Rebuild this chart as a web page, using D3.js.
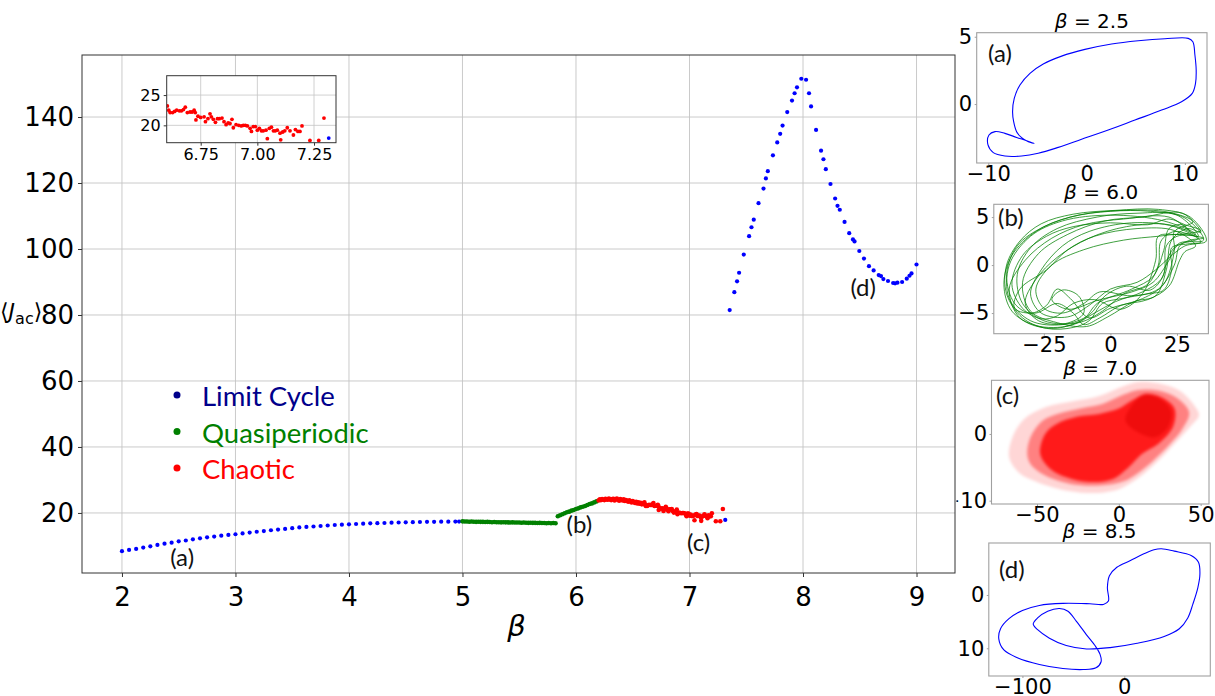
<!DOCTYPE html>
<html><head><meta charset="utf-8">
<script src="https://cdn.jsdelivr.net/npm/d3@7"></script>
<style>body{margin:0;background:#fff}svg{display:block}</style>
</head><body>
<svg id="c" width="1215" height="696"></svg>
<script>
// ---------------- DATA ----------------
const betaTicks = [2,3,4,5,6,7,8,9];
const jTicks = [20,40,60,80,100,120,140];
const insetBetaTicks = [6.75,7.00,7.25];
const insetJTicks = [20,25];

const limitBeta = [2.0,2.0625,2.125,2.1875,2.25,2.3125,2.375,2.4375,2.5,2.5625,2.625,2.6875,2.75,2.8125,2.875,2.9375,3.0,3.0625,3.125,3.1875,3.25,3.3125,3.375,3.4375,3.5,3.5625,3.625,3.6875,3.75,3.8125,3.875,3.9375,4.0,4.0625,4.125,4.1875,4.25,4.3125,4.375,4.4375,4.5,4.5625,4.625,4.6875,4.75,4.8125,4.875,4.9375,4.97,
  7.315,
  7.354,7.395,7.419,7.437,7.478,7.525,7.546,7.566,7.608,7.652,7.673,7.690,7.735,7.773,7.799,7.820,7.861,7.903,7.926,7.947,7.985,8.027,8.053,8.071,8.115,8.159,8.180,8.201,8.242,8.283,8.304,8.324,8.366,8.407,8.440,8.454,8.496,8.537,8.581,8.622,8.667,8.687,8.708,8.749,8.794,8.811,8.832,8.873,8.914,8.938,8.956,9.000];
const limitJ = [8.4,8.8,9.1,9.5,9.9,10.3,10.7,11.0,11.4,11.65,12.0,12.3,12.6,12.85,13.1,13.35,13.55,13.8,14.05,14.3,14.5,14.75,14.95,15.15,15.4,15.6,15.75,15.9,16.05,16.2,16.35,16.45,16.55,16.65,16.75,16.85,16.9,16.95,17.05,17.1,17.15,17.2,17.25,17.3,17.3,17.35,17.35,17.4,17.4,
  17.9,
  81.5,86.9,90.2,92.8,98.3,103.9,106.6,108.9,113.9,118.3,121.4,123.6,128.4,132.3,134.9,137.4,141.5,145.0,147.2,149.0,151.6,151.3,147.2,143.2,136.1,129.8,127.2,124.2,119.7,115.3,113.1,111.9,108.2,104.8,102.9,102.3,99.4,97.1,94.8,93.5,92.1,91.8,90.9,90.3,89.7,89.6,89.8,90.0,91.0,91.9,92.6,95.3];

const quasiBeta = [5.00,5.02,5.04,5.06,5.08,5.10,5.12,5.14,5.16,5.18,5.20,5.22,5.24,5.26,5.28,5.30,5.32,5.34,5.36,5.38,5.40,5.42,5.44,5.46,5.48,5.50,5.52,5.54,5.56,5.58,5.60,5.62,5.64,5.66,5.68,5.70,5.72,5.74,5.76,5.78,5.80,5.82,
  5.84,5.86,5.88,5.90,5.92,5.94,5.96,5.98,6.00,6.02,6.04,6.06,6.08,6.10,6.12,6.14,6.16,6.18];
const quasiJ = [17.45,17.4,17.4,17.35,17.4,17.35,17.3,17.35,17.3,17.3,17.25,17.3,17.25,17.2,17.25,17.2,17.2,17.15,17.2,17.15,17.15,17.1,17.15,17.1,17.1,17.1,17.05,17.1,17.05,17.0,17.05,17.0,17.0,16.95,17.0,16.95,16.95,16.9,16.95,16.9,16.95,16.9,
  19.0,19.3,19.6,19.9,20.2,20.4,20.7,20.9,21.2,21.4,21.7,21.9,22.1,22.4,22.7,22.9,23.2,23.5];

const chaosBeta = [6.20,6.21,6.22,6.23,6.24,6.25,6.26,6.27,6.28,6.29,6.30,6.31,6.32,6.33,6.34,6.35,6.36,6.37,6.38,6.39,6.40,6.41,6.42,6.43,6.44,6.45,6.46,6.47,6.48,6.49,6.50,6.51,6.52,6.53,6.54,6.55,6.56,6.57,6.58,6.59,
  6.603,6.609,6.615,6.626,6.635,6.644,6.656,6.665,6.674,6.682,6.691,6.703,6.712,6.721,6.726,6.729,6.738,6.750,6.765,6.771,6.782,6.791,6.797,6.806,6.815,6.824,6.832,6.844,6.853,6.862,6.871,6.879,6.888,6.894,6.906,6.918,6.929,6.938,6.947,6.956,6.968,6.974,6.982,6.991,7.000,7.009,7.018,7.026,7.038,7.044,7.053,7.062,7.071,7.079,7.088,7.100,7.103,7.112,7.121,7.132,7.144,7.159,7.168,7.179,7.188,7.197,7.232,7.271,7.294];
const chaosJ = [23.8,24.1,23.9,24.2,24.0,23.9,24.3,24.1,24.0,24.4,24.1,23.9,24.2,24.3,23.8,24.1,24.4,24.0,23.7,24.2,24.0,23.8,24.1,23.6,23.9,23.7,23.4,23.8,23.5,23.2,23.6,23.3,23.0,23.4,22.9,23.2,22.8,23.1,22.6,22.9,
  23.2,22.5,22.1,22.1,22.3,22.5,22.4,22.4,22.6,23.0,22.1,22.2,22.2,22.5,22.1,20.9,21.5,21.3,21.4,20.6,21.1,21.9,21.4,21.0,20.5,21.1,21.1,21.2,20.6,20.1,20.4,20.3,21.0,19.6,20.1,20.0,19.9,20.0,20.0,19.9,19.5,19.0,19.8,19.8,19.2,19.5,19.1,19.1,19.2,17.8,19.5,19.7,19.1,19.1,19.2,18.7,17.6,18.9,19.1,19.6,19.1,18.4,19.3,19.0,19.0,19.9,17.5,17.5,21.2];

const legendLabels = ['Limit Cycle','Quasiperiodic','Chaotic'];
const annotLabels = ['(a)','(b)','(c)','(d)'];
const annotBeta = [2.53,6.03,7.08,8.53];
const annotJ = [3.9,13.9,8.5,85.8];

// phase portraits
const cycleA = [[-5.32,-2.92],[-5.93,-2.80],[-6.61,-2.50],[-7.12,-2.05],[-7.42,-1.31],[-7.53,-0.57],[-7.36,0.42],[-6.78,1.41],[-5.76,2.28],[-4.41,2.97],[-2.54,3.56],[-0.17,4.06],[2.54,4.46],[5.25,4.70],[7.97,4.85],[10.34,4.88],[10.81,4.63],[11.02,3.64],[11.15,2.52],[11.08,1.53],[10.75,0.79],[9.66,0.17],[7.63,-0.45],[4.92,-1.19],[2.20,-1.93],[-0.51,-2.62],[-2.88,-3.22],[-4.92,-3.66],[-6.61,-3.86],[-8.31,-3.86],[-9.49,-3.61],[-10.03,-3.04],[-9.93,-2.30],[-9.32,-2.05],[-8.31,-2.18],[-7.12,-2.48],[-6.10,-2.72]];

const quasiLoops = [
 [[35,2.6],[28,4.9],[15,5.6],[0,5.6],[-15,5.0],[-28,3.5],[-37,1.0],[-40,-2.0],[-37,-4.8],[-28,-6.3],[-15,-6.3],[-6,-5.0],[2,-3.8],[12,-2.8],[19,-1.5],[22,1.0],[26,2.3]],
 [[33,3.0],[25,5.2],[10,5.4],[-5,5.0],[-20,3.8],[-30,1.8],[-35,-1.0],[-33,-4.0],[-25,-5.8],[-12,-6.0],[-3,-4.8],[5,-3.0],[14,-2.0],[18,0.0],[19,2.5],[24,3.5]],
 [[30,3.5],[22,5.0],[5,4.8],[-10,4.2],[-22,2.8],[-32,0.5],[-38,-2.5],[-34,-5.5],[-22,-6.6],[-10,-5.6],[-5,-4.0],[8,-2.5],[16,-1.2],[20,1.5],[22,3.8],[27,4.2]],
 [[34,2.4],[24,4.0],[8,4.4],[-8,3.5],[-18,2.0],[-26,-0.5],[-30,-3.0],[-26,-5.0],[-16,-5.4],[-8,-4.2],[0,-2.5],[10,-1.8],[17,-0.5],[23,1.0],[28,2.0]],
 [[32,3.2],[20,4.6],[0,5.2],[-18,4.6],[-30,3.0],[-38,0.0],[-38,-3.5],[-30,-5.8],[-18,-6.2],[-8,-5.2],[-2,-3.2],[6,-2.2],[15,-2.6],[20,-1.0],[21,2.0],[25,3.0]],
 [[35,2.8],[26,3.2],[18,3.0],[5,2.6],[-10,1.6],[-22,0.0],[-28,-2.5],[-25,-4.5],[-18,-5.0],[-10,-4.0],[-4,-2.8],[8,-3.2],[18,-2.5],[24,0.0],[26,2.0],[30,2.6]],
 [[31,4.5],[22,5.5],[5,5.7],[-12,5.2],[-25,4.0],[-35,2.0],[-39,-1.0],[-36,-4.0],[-30,-5.0],[-24,-4.2],[-20,-2.5],[-15,-3.5],[-8,-5.5],[0,-4.5],[12,-3.5],[20,-2.0],[24,1.5],[24,3.5]],
 [[34,3.4],[27,5.4],[12,5.0],[-2,4.6],[-16,3.2],[-27,1.2],[-33,-1.8],[-30,-4.8],[-20,-6.0],[-9,-6.4],[-1,-5.4],[9,-3.8],[17,-3.2],[21,-0.5],[23,2.6],[29,3.8]],
 [[33,2.8],[22,4.2],[6,4.0],[-8,2.8],[-20,0.8],[-28,-1.5],[-32,-4.0],[-27,-5.8],[-17,-6.1],[-10,-5.0],[-12,-3.2],[-18,-2.6],[-22,-3.6],[-16,-4.6],[-4,-3.6],[8,-2.8],[16,-1.8],[22,0.5],[25,2.0]],
 [[36,2.5],[30,5.0],[18,5.8],[2,5.7],[-14,5.3],[-26,4.3],[-34,2.5],[-39,0.0],[-39,-3.0],[-33,-5.5],[-24,-6.6],[-14,-6.5],[-8,-5.8],[-3,-4.0],[4,-3.5],[14,-3.0],[20,-2.6],[23,-0.5],[23,1.8],[29,2.2]],
 [[32,2.0],[24,3.6],[10,3.8],[-6,3.0],[-16,1.6],[-24,-0.5],[-34,-2.5],[-36,-4.5],[-28,-5.0],[-20,-4.0],[-14,-5.0],[-10,-6.2],[-4,-5.5],[4,-4.2],[14,-3.6],[22,-2.2],[26,0.5],[28,1.4]],
 [[34,3.6],[28,4.2],[22,4.8],[14,4.2],[0,4.4],[-14,4.0],[-24,3.0],[-33,1.0],[-37,-2.0],[-33,-4.5],[-26,-5.6],[-20,-5.3],[-14,-4.0],[-6,-3.6],[4,-4.6],[12,-3.0],[17,0.5],[18,3.0],[26,3.2]]
];

const chaosOuter = [[-67,-3.5],[-65,-0.5],[-58,2.2],[-45,4.0],[-28,4.9],[-12,5.7],[3,7.2],[12,7.8],[24,7.6],[37,6.5],[46,4.3],[49,2.8],[44,1.2],[35,-1.2],[25,-3.8],[16,-5.8],[7,-7.4],[0,-8.3],[-10,-8.8],[-23,-8.8],[-36,-8.3],[-50,-7.2],[-61,-5.8]];
const chaosMid = [[-56,-3.0],[-54,-0.5],[-47,1.9],[-36,3.1],[-22,3.9],[-10,4.5],[3,5.9],[12,6.6],[24,6.5],[36,5.3],[43,3.2],[39,0.8],[31,-1.6],[21,-4.0],[12,-5.8],[3,-7.1],[-10,-7.7],[-23,-7.7],[-37,-7.0],[-48,-5.8],[-54,-4.5]];
const chaosCore = [[-48,-3.0],[-45,0.0],[-38,1.5],[-25,2.6],[-12,3.0],[0,3.8],[8,5.0],[16,6.0],[26,5.5],[34,3.8],[33,1.0],[24,-1.5],[14,-3.0],[6,-5.0],[-4,-6.8],[-18,-7.2],[-32,-6.5],[-42,-5.2]];
const chaosDark = [[4,2.0],[9,4.6],[16,5.9],[25,5.3],[32,3.4],[30,1.0],[22,-0.5],[12,0.2]];

const cycleD = [[-15.6,-1.14],[-16.6,1.39],[-14.6,3.61],[-7.3,5.19],[6.0,6.46],[19.2,7.72],[29.1,8.48],[36.4,8.67],[49.0,8.23],[65.6,7.41],[72.8,6.14],[74.2,3.92],[72.2,1.39],[67.2,-1.77],[62.3,-4.30],[54.0,-6.33],[39.1,-7.78],[12.6,-9.05],[-13.9,-9.87],[-37.1,-10.13],[-57.0,-9.49],[-73.5,-8.10],[-85.1,-6.52],[-89.4,-5.44],[-85.1,-4.30],[-75.2,-3.04],[-63.6,-2.53],[-55.3,-3.04],[-47.0,-4.94],[-37.1,-7.47],[-28.8,-9.49],[-23.8,-11.14],[-22.8,-12.53],[-27.8,-13.67],[-40.4,-13.99],[-60.3,-13.80],[-83.4,-13.04],[-105.0,-11.77],[-118.2,-10.32],[-123.2,-8.23],[-121.5,-6.33],[-113.2,-4.43],[-100.0,-2.91],[-83.4,-1.96],[-60.3,-1.58],[-33.8,-1.65],[-20.5,-1.77]];

// ---------------- DRAW ----------------
const svg = d3.select('#c');
const defs = svg.append('defs');
const TICKFONT = "'DejaVu Sans'";
const TXTFONT = "Lato";

const M = {l:82, r:955, t:55, b:573};
const x = d3.scaleLinear().domain([1.648, 9.339]).range([M.l, M.r]);
const y = d3.scaleLinear().domain([1.8, 158.8]).range([M.b, M.t]);

defs.append('clipPath').attr('id','mainclip').append('rect')
  .attr('x',M.l).attr('y',M.t).attr('width',M.r-M.l).attr('height',M.b-M.t);

const gm = svg.append('g');
gm.selectAll('.gx').data(betaTicks).join('line')
  .attr('x1',d=>x(d)).attr('x2',d=>x(d)).attr('y1',M.t).attr('y2',M.b)
  .attr('stroke','#c4c4c4').attr('stroke-width',0.9);
gm.selectAll('.gy').data(jTicks).join('line')
  .attr('x1',M.l).attr('x2',M.r).attr('y1',d=>y(d)).attr('y2',d=>y(d))
  .attr('stroke','#c4c4c4').attr('stroke-width',0.9);

function series(bs, js, color, r, xs, ys, parent){
  parent.append('g').selectAll('circle').data(bs.map((b,i)=>[b,js[i]])).join('circle')
    .attr('cx',d=>xs(d[0])).attr('cy',d=>ys(d[1])).attr('r',r).attr('fill',color);
}
const dots = gm.append('g').attr('clip-path','url(#mainclip)');
series(limitBeta, limitJ, '#0000ff', 2.1, x, y, dots);
series(quasiBeta, quasiJ, '#008000', 2.3, x, y, dots);
series(chaosBeta, chaosJ, '#ff0000', 2.3, x, y, dots);

gm.append('rect').attr('x',M.l).attr('y',M.t).attr('width',M.r-M.l).attr('height',M.b-M.t)
  .attr('fill','none').attr('stroke','#333').attr('stroke-width',1);

function styleAxis(s, fs, col){
  s.attr('font-size',null).attr('font-family',null);
  s.select('.domain').remove();
  s.selectAll('line').attr('stroke',col);
  s.selectAll('text').attr('fill','#000').style('font-family',TICKFONT).style('font-size',fs+'px');
}
gm.append('g').attr('transform',`translate(0,${M.b})`)
  .call(d3.axisBottom(x).tickValues(betaTicks).tickFormat(d3.format('d')).tickSize(4).tickPadding(11).tickSizeOuter(0))
  .call(s=>styleAxis(s,26,'#333'));
gm.append('g').attr('transform',`translate(${M.l},0)`)
  .call(d3.axisLeft(y).tickValues(jTicks).tickFormat(d3.format('d')).tickSize(4).tickPadding(4).tickSizeOuter(0))
  .call(s=>styleAxis(s,26,'#333'));

// axis labels
gm.append('text').attr('x',(M.l+M.r)/2 - 2).attr('y',636).attr('text-anchor','middle')
  .style('font-family',TICKFONT).attr('font-style','italic').style('font-size','29px').text('β');
const yl = gm.append('text').attr('x',0).attr('y',319).style('font-family',TICKFONT).style('font-size','22px');
yl.append('tspan').text('⟨');
yl.append('tspan').attr('font-style','italic').text('J');
yl.append('tspan').style('font-size','16px').attr('dy',5).text('ac');
yl.append('tspan').attr('dy',-5).text('⟩');

// legend
const legendColors = ['#00008b','#008000','#ff0000'];
const lg = gm.append('g');
legendLabels.forEach((t,i)=>{
  lg.append('circle').attr('cx',177).attr('cy',395+i*36.5).attr('r',3.5).attr('fill',legendColors[i]);
  lg.append('text').attr('x',202).attr('y',406+i*36.5).style('font-family',TXTFONT).style('font-size','27.5px')
    .attr('fill',legendColors[i]).text(t);
});

// annotations
gm.selectAll('.ann').data(annotLabels).join('text')
  .attr('x',(d,i)=>x(annotBeta[i])).attr('y',(d,i)=>y(annotJ[i]))
  .attr('text-anchor','middle').style('font-family',TXTFONT).style('font-size','24px').attr('fill','#111')
  .text(d=>d);

// inset
const I = {l:166.7, r:336, t:75.7, b:142.7};
const xi = d3.scaleLinear().domain([6.6,7.347]).range([I.l,I.r]);
const yi = d3.scaleLinear().domain([17.13,28.2]).range([I.b,I.t]);
defs.append('clipPath').attr('id','insclip').append('rect')
  .attr('x',I.l).attr('y',I.t).attr('width',I.r-I.l).attr('height',I.b-I.t);
const gi = svg.append('g');
gi.append('rect').attr('x',I.l).attr('y',I.t).attr('width',I.r-I.l).attr('height',I.b-I.t).attr('fill','#fff');
gi.selectAll('.ix').data(insetBetaTicks).join('line')
  .attr('x1',d=>xi(d)).attr('x2',d=>xi(d)).attr('y1',I.t).attr('y2',I.b).attr('stroke','#c4c4c4').attr('stroke-width',0.8);
gi.selectAll('.iy').data(insetJTicks).join('line')
  .attr('x1',I.l).attr('x2',I.r).attr('y1',d=>yi(d)).attr('y2',d=>yi(d)).attr('stroke','#c4c4c4').attr('stroke-width',0.8);
const idots = gi.append('g').attr('clip-path','url(#insclip)');
series(chaosBeta, chaosJ, '#ff0000', 1.9, xi, yi, idots);
series(limitBeta, limitJ, '#0000ff', 1.9, xi, yi, idots);
gi.append('rect').attr('x',I.l).attr('y',I.t).attr('width',I.r-I.l).attr('height',I.b-I.t)
  .attr('fill','none').attr('stroke','#333').attr('stroke-width',1);
gi.append('g').attr('transform',`translate(0,${I.b})`)
  .call(d3.axisBottom(xi).tickValues(insetBetaTicks).tickFormat(d3.format('.2f')).tickSize(3).tickPadding(3).tickSizeOuter(0))
  .call(s=>styleAxis(s,16,'#333'));
gi.append('g').attr('transform',`translate(${I.l},0)`)
  .call(d3.axisLeft(yi).tickValues(insetJTicks).tickFormat(d3.format('d')).tickSize(3).tickPadding(3).tickSizeOuter(0))
  .call(s=>styleAxis(s,16,'#333'));

// ---------------- side panels ----------------
defs.append('clipPath').attr('id','sideclip').append('rect').attr('x',956.5).attr('y',0).attr('width',260).attr('height',696);
const side = svg.append('g').attr('clip-path','url(#sideclip)');
const blur = defs.append('filter').attr('id','soft').attr('x','-10%').attr('y','-10%').attr('width','120%').attr('height','120%');
blur.append('feGaussianBlur').attr('stdDeviation',1.5);

const panels = [
 {key:'a', box:[976.7,32.7,1207,163], xd:[-11.18,12.25], yd:[-4.38,5.3], xt:[-10,0,10], yt:[0,5], title:'2.5', lab:[988,62]},
 {key:'b', box:[993.8,204.3,1208.4,333.7], xd:[-43.8,36.8], yd:[-7.15,6.33], xt:[-25,0,25], yt:[-5,0,5], title:'6.0', lab:[998,226]},
 {key:'c', box:[991.5,380.3,1209,504], xd:[-77.8,55.1], yd:[-10.5,8.04], xt:[-50,0,50], yt:[-10,0], title:'7.0', lab:[996,404]},
 {key:'d', box:[988.8,543,1210.3,676], xd:[-133,84.4], yd:[-15.2,9.75], xt:[-100,0], yt:[-10,0], title:'8.5', lab:[999,578]}
];
const fmt = d3.format('d');
panels.forEach(p=>{
  const [l,t,r,b] = p.box;
  const px = d3.scaleLinear().domain(p.xd).range([l,r]);
  const py = d3.scaleLinear().domain(p.yd).range([b,t]);
  const g = side.append('g');
  defs.append('clipPath').attr('id','pc'+p.key).append('rect').attr('x',l).attr('y',t).attr('width',r-l).attr('height',b-t);
  const inner = g.append('g').attr('clip-path',`url(#pc${p.key})`);
  const line = d3.line().x(d=>px(d[0])).y(d=>py(d[1])).curve(d3.curveCatmullRomClosed.alpha(0.5));
  if(p.key==='a'){
    inner.append('path').attr('d',line(cycleA)).attr('fill','none').attr('stroke','#0000ff').attr('stroke-width',1.1);
  } else if(p.key==='b'){
    quasiLoops.forEach(L=>inner.append('path').attr('d',line(L)).attr('fill','none').attr('stroke','#008000').attr('stroke-width',0.75));
  } else if(p.key==='c'){
    const cg = inner.append('g').attr('filter','url(#soft)');
    cg.append('path').attr('d',line(chaosOuter)).attr('fill','#ff0000').attr('fill-opacity',0.16);
    cg.append('path').attr('d',line(chaosMid)).attr('fill','#ff0000').attr('fill-opacity',0.4);
    cg.append('path').attr('d',line(chaosCore)).attr('fill','#ff0000').attr('fill-opacity',0.8);
    cg.append('path').attr('d',line(chaosDark)).attr('fill','#e00000').attr('fill-opacity',0.5);
  } else {
    inner.append('path').attr('d',line(cycleD)).attr('fill','none').attr('stroke','#0000ff').attr('stroke-width',1.1);
  }
  g.append('rect').attr('x',l).attr('y',t).attr('width',r-l).attr('height',b-t)
    .attr('fill','none').attr('stroke','#a0a0a0').attr('stroke-width',1.1);
  g.append('g').attr('transform',`translate(0,${b})`)
    .call(d3.axisBottom(px).tickValues(p.xt).tickFormat(fmt).tickSize(2).tickPadding(1.5).tickSizeOuter(0))
    .call(s=>styleAxis(s,21,'#a0a0a0'));
  g.append('g').attr('transform',`translate(${l},0)`)
    .call(d3.axisLeft(py).tickValues(p.yt).tickFormat(fmt).tickSize(2).tickPadding(2.5).tickSizeOuter(0))
    .call(s=>styleAxis(s,21,'#a0a0a0'));
  const tt = g.append('text').attr('x',(l+r)/2).attr('y',t-5).attr('text-anchor','middle')
    .style('font-family',TICKFONT).style('font-size','20px');
  tt.append('tspan').attr('font-style','italic').text('β');
  tt.append('tspan').text(' = '+p.title);
  g.append('text').attr('x',p.lab[0]).attr('y',p.lab[1]).style('font-family',TXTFONT).style('font-size','24px').attr('fill','#111')
    .text('('+p.key+')');
});
</script>
</body></html>
